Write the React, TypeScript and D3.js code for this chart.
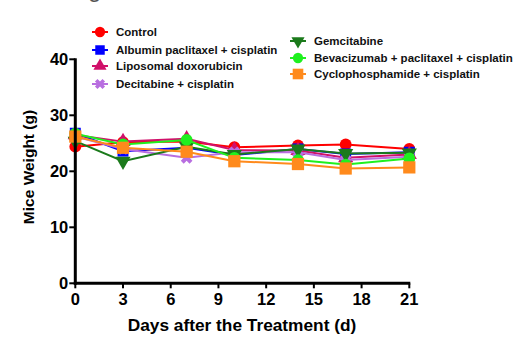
import React from "react";
import * as d3 from "d3";

const days = [0, 3, 7, 10, 14, 17, 21];
const seriesNames = [
  "Control",
  "Albumin paclitaxel + cisplatin",
  "Liposomal doxorubicin",
  "Decitabine + cisplatin",
  "Gemcitabine",
  "Bevacizumab + paclitaxel + cisplatin",
  "Cyclophosphamide + cisplatin",
];
const control = [24.4, 25.2, 25.3, 24.3, 24.6, 24.8, 24.0];
const albumin = [26.8, 23.6, 24.2, 22.9, 24.0, 23.1, 23.4];
const liposomal = [26.5, 25.3, 25.8, 23.8, 23.7, 22.4, 23.0];
const decitabine = [26.2, 24.0, 22.4, 23.4, 23.4, 22.0, 22.6];
const gemcitabine = [25.4, 21.8, 24.4, 23.0, 24.0, 23.2, 23.3];
const bevacizumab = [26.7, 24.8, 25.6, 22.4, 22.0, 21.2, 22.3];
const cyclophosphamide = [26.2, 24.2, 23.5, 21.8, 21.3, 20.5, 20.7];
const yTicks = [0, 10, 20, 30, 40];
const xTicks = [0, 3, 6, 9, 12, 15, 18, 21];

const allSeries = [control, albumin, liposomal, decitabine, gemcitabine, bevacizumab, cyclophosphamide];
const colors = ["#ff0000", "#0000ff", "#d0106a", "#b86ee0", "#1b7a1b", "#1ff01f", "#ff8a1c"];
const shapes = [d3.symbolCircle, d3.symbolSquare, d3.symbolTriangle, d3.symbolCross, d3.symbolTriangle, d3.symbolCircle, d3.symbolSquare];
const rotations = [0, 0, 0, 45, 180, 0, 0];
const sizes = [110, 120, 100, 85, 100, 110, 150];

export default function App() {
  const x = d3.scaleLinear().domain([0, 21]).range([75.3, 409.3]);
  const y = d3.scaleLinear().domain([0, 40]).range([283.3, 59.3]);
  const line = d3.line<number>().x((_, i) => x(days[i])).y((v) => y(v));
  const font = "'Liberation Sans', Arial, sans-serif";

  const marker = (k: number, cx: number, cy: number, scale = 1) => (
    <path
      d={d3.symbol().type(shapes[k]).size(sizes[k] * scale)()!}
      transform={`translate(${cx},${cy}) rotate(${rotations[k]})`}
      fill={colors[k]}
    />
  );

  const legendPos = [
    [100, 32], [100, 50], [100, 66], [100, 84],
    [298, 41], [298, 58], [298, 74],
  ];

  return (
    <svg width={519} height={337} style={{ position: "absolute", left: 0, top: 0 }} fontFamily={font}>
      <rect width={519} height={337} fill="#fff" />
      <text x={88} y={-3} fontSize={24} fill="#555">g</text>
      {/* legend */}
      {seriesNames.map((n, k) => (
        <g key={n}>
          <line x1={legendPos[k][0] - 8} x2={legendPos[k][0] + 8} y1={legendPos[k][1]} y2={legendPos[k][1]} stroke={colors[k]} strokeWidth={2} />
          {marker(k, legendPos[k][0], legendPos[k][1], 0.75)}
          <text x={legendPos[k][0] + 16} y={legendPos[k][1] + 4} fontSize={11.5} fontWeight="bold" fill="#111">{n}</text>
        </g>
      ))}
      {/* series */}
      {allSeries.map((s, k) => (
        <g key={k}>
          <path d={line(s)!} fill="none" stroke={colors[k]} strokeWidth={2} />
          {s.map((v, i) => (
            <g key={i}>{marker(k, x(days[i]), y(v))}</g>
          ))}
        </g>
      ))}
      {/* axes */}
      <line x1={x(0)} x2={x(0)} y1={y(40) - 1} y2={y(0) + 1.5} stroke="#000" strokeWidth={3} />
      <line x1={x(0) - 1.5} x2={x(21) + 1} y1={y(0)} y2={y(0)} stroke="#000" strokeWidth={3} />
      {yTicks.map((t) => (
        <g key={t}>
          <line x1={x(0) - 6} x2={x(0)} y1={y(t)} y2={y(t)} stroke="#000" strokeWidth={2} />
          <text x={x(0) - 7} y={y(t) + 6} textAnchor="end" fontSize={16.5} fontWeight="bold">{t}</text>
        </g>
      ))}
      {xTicks.map((t) => (
        <g key={t}>
          <line x1={x(t)} x2={x(t)} y1={y(0)} y2={y(0) + 5} stroke="#000" strokeWidth={2} />
          <text x={x(t)} y={y(0) + 22} textAnchor="middle" fontSize={16.5} fontWeight="bold">{t}</text>
        </g>
      ))}
      <text x={242} y={331} textAnchor="middle" fontSize={17.3} fontWeight="bold">Days after the Treatment (d)</text>
      <text transform={`translate(34,167) rotate(-90)`} textAnchor="middle" fontSize={15.5} fontWeight="bold">Mice Weight (g)</text>
    </svg>
  );
}
